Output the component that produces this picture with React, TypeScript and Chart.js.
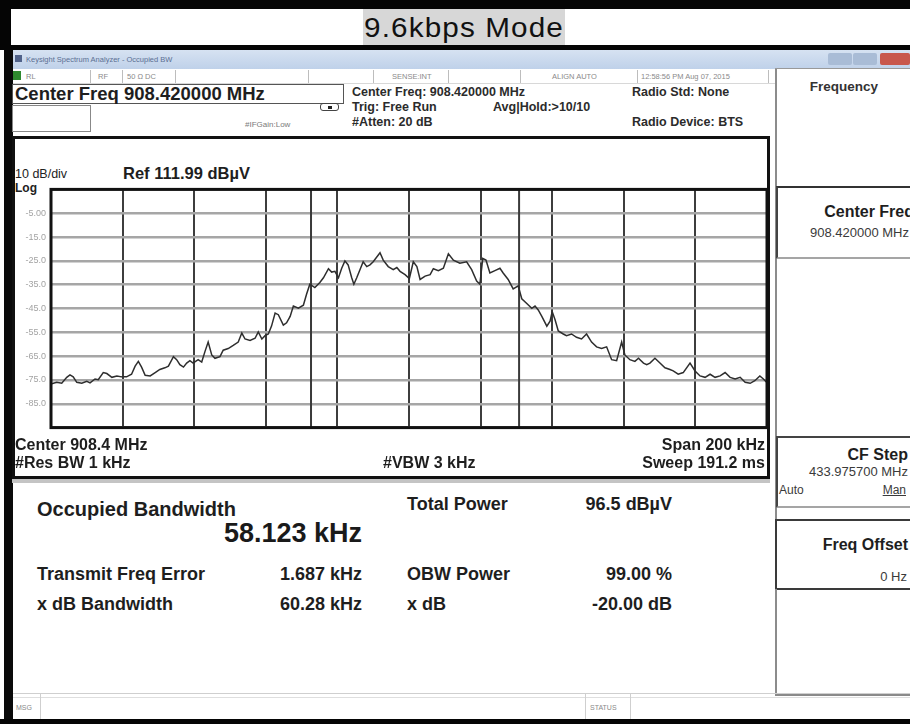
import React, { useEffect, useRef } from 'react';
import { Chart, registerables } from 'chart.js';

Chart.register(...registerables);

// ---------- data ----------
const titleText = '9.6kbps Mode';

// frequency offset from centre (kHz) and trace level (graticule units)
const freqOffsetKHz = [
  -99.8, -98.4, -97.0, -95.6, -94.7, -93.8, -92.8, -91.4, -90.0, -89.1, -87.7, -86.8, -85.4, -84.4, -83.0,
  -81.6, -80.3, -78.9, -77.5, -76.5, -75.6, -74.7, -73.7, -72.3, -70.9, -69.6, -68.2, -67.2, -65.8, -64.9,
  -64.0, -63.0, -62.1, -61.2, -60.3, -58.9, -57.9, -57.0, -56.1, -55.1, -54.2, -52.8, -51.9, -50.5, -49.1,
  -47.7, -46.7, -45.8, -44.4, -43.0, -42.1, -41.1, -40.2, -39.3, -38.4, -37.4, -36.5, -35.1, -34.2, -33.2,
  -32.3, -30.9, -29.5, -28.6, -27.7, -26.3, -24.9, -23.9, -22.5, -21.6, -20.7, -19.7, -18.8, -17.9, -17.0,
  -16.0, -15.4, -14.6, -13.7, -12.8, -11.8, -10.9, -10.0, -8.1, -7.2, -5.8, -4.4, -3.4, -2.5, -1.1,
  0.1, 1.2, 2.2, 3.1, 4.5, 5.9, 6.8, 8.2, 9.6, 11.0, 12.4, 14.2, 16.1, 17.5, 18.9,
  19.8, 20.6, 21.5, 22.6, 24.0, 25.4, 26.3, 27.7, 29.1, 30.5, 31.5, 32.9, 34.3, 35.2, 36.1,
  37.1, 38.5, 39.4, 40.0, 40.8, 41.7, 43.1, 44.0, 45.4, 46.8, 48.2, 49.6, 51.0, 52.4, 53.8,
  55.2, 56.6, 58.0, 59.4, 60.3, 61.7, 63.1, 64.1, 65.5, 66.4, 67.3, 68.7, 70.1, 71.5, 72.9,
  73.8, 75.2, 76.6, 78.5, 79.9, 81.3, 82.7, 84.1, 85.5, 86.9, 88.3, 89.7, 91.1, 92.5, 93.9,
  95.3, 96.6, 98.0, 99.0, 99.9,
];
const traceLevel = [
  -76.6, -76.0, -76.4, -73.9, -72.9, -73.7, -76.0, -76.4, -75.6, -76.2, -74.6, -74.9, -71.9, -72.3, -73.9,
  -73.3, -73.7, -73.7, -72.6, -69.2, -67.2, -69.6, -73.0, -73.3, -71.9, -70.6, -69.9, -69.2, -65.2, -66.5,
  -68.6, -69.6, -67.9, -66.9, -67.9, -66.5, -67.5, -63.1, -59.1, -64.5, -65.9, -65.2, -62.5, -61.8, -60.5,
  -59.1, -55.3, -57.8, -58.4, -57.5, -54.8, -57.8, -56.4, -55.7, -52.4, -46.9, -47.6, -52.0, -51.0, -48.3,
  -44.0, -44.9, -43.6, -38.9, -34.8, -36.2, -34.1, -32.1, -28.3, -29.7, -29.4, -32.1, -28.1, -25.0, -26.7,
  -32.1, -34.8, -32.1, -28.7, -25.4, -27.4, -26.7, -25.4, -21.6, -24.7, -27.4, -28.7, -27.8, -29.4, -30.8,
  -32.4, -25.4, -27.4, -32.8, -31.4, -30.8, -28.3, -29.1, -28.1, -22.0, -24.7, -26.0, -25.4, -28.7, -33.5,
  -34.8, -24.0, -24.7, -30.1, -29.1, -28.1, -30.1, -32.8, -36.8, -35.5, -40.9, -42.9, -44.9, -44.0, -45.6,
  -48.3, -52.4, -50.3, -46.3, -49.7, -54.4, -55.7, -56.4, -55.7, -57.1, -57.8, -55.7, -59.1, -61.1, -61.8,
  -61.1, -66.5, -66.9, -59.1, -64.5, -66.5, -67.2, -65.9, -67.9, -68.6, -67.9, -65.9, -67.9, -69.9, -70.6,
  -71.2, -72.6, -71.9, -67.9, -71.2, -73.3, -73.9, -72.6, -73.9, -73.3, -71.9, -73.9, -74.6, -73.9, -76.0,
  -76.4, -75.3, -73.3, -74.6, -76.0,
];

// occupied-bandwidth edge markers (kHz offset)
const obwEdgesKHz = [-27.37, 30.75];

// y graticule labels as printed
const yGridValues = [-5, -15, -25, -35, -45, -55, -65, -75, -85];
const yGridLabels = ['-5.00', '-15.0', '-25.0', '-35.0', '-45.0', '-55.0', '-65.0', '-75.0', '-85.0'];

const X_MIN = -100;
const X_MAX = 100;
const X_STEP = 20;
const Y_MIN = -95;
const Y_MAX = 5;
const Y_STEP = 10;

const FONT = "'Liberation Sans', Arial, Helvetica, sans-serif";

// ---------- helpers ----------
type TP = {
  x: number;
  y: number;
  s: number;
  t: string;
  b?: boolean;
  a?: 'left' | 'right' | 'center';
  c?: string;
  u?: boolean;
  ls?: number;
};

function Txt({ x, y, s, t, b, a = 'left', c = '#222', u, ls }: TP) {
  const style: React.CSSProperties = {
    position: 'absolute',
    top: y - s * 0.6,
    fontSize: s,
    lineHeight: `${s * 1.2}px`,
    fontWeight: b ? 700 : 400,
    color: c,
    whiteSpace: 'nowrap',
    textDecoration: u ? 'underline' : undefined,
    letterSpacing: ls,
  };
  if (a === 'left') style.left = x;
  else if (a === 'right') style.right = 910 - x;
  else {
    style.left = x;
    style.transform = 'translateX(-50%)';
  }
  return <div style={style}>{t}</div>;
}

function Box(props: { x: number; y: number; w: number; h: number; style?: React.CSSProperties }) {
  return (
    <div
      style={{
        position: 'absolute',
        left: props.x,
        top: props.y,
        width: props.w,
        height: props.h,
        boxSizing: 'border-box',
        ...props.style,
      }}
    />
  );
}

// ---------- chart ----------
function SpectrumChart() {
  const ref = useRef<HTMLCanvasElement | null>(null);

  useEffect(() => {
    if (!ref.current) return;
    const frame = {
      id: 'graticuleFrame',
      afterDatasetsDraw(chart: any) {
        const { ctx, chartArea } = chart;
        ctx.save();
        ctx.strokeStyle = '#111';
        ctx.lineWidth = 3;
        ctx.strokeRect(chartArea.left, chartArea.top, chartArea.right - chartArea.left, chartArea.bottom - chartArea.top);
        ctx.restore();
      },
    };

    const trace = freqOffsetKHz.map((f, i) => ({ x: f, y: traceLevel[i] }));
    const markers = obwEdgesKHz.map((f) => ({
      data: [
        { x: f, y: Y_MIN },
        { x: f, y: Y_MAX },
      ],
      borderColor: '#3a3a3a',
      borderWidth: 2,
      pointRadius: 0,
      order: 2,
    }));

    const chart = new Chart(ref.current, {
      type: 'line',
      data: {
        datasets: [
          ...markers,
          {
            data: trace,
            borderColor: '#2e2e2e',
            borderWidth: 1.5,
            pointRadius: 0,
            tension: 0,
            order: 0,
          },
        ],
      },
      options: {
        animation: false,
        responsive: false,
        devicePixelRatio: 1,
        parsing: false as any,
        layout: { padding: { left: 0, right: 3, top: 6, bottom: 6 } },
        plugins: { legend: { display: false }, tooltip: { enabled: false }, title: { display: false } },
        scales: {
          x: {
            type: 'linear',
            min: X_MIN,
            max: X_MAX,
            ticks: { stepSize: X_STEP, display: false },
            grid: { color: '#3d3d3d', lineWidth: 2, drawTicks: false },
            border: { display: false },
            afterFit(scale: any) {
              scale.height = 0;
            },
          },
          y: {
            type: 'linear',
            min: Y_MIN,
            max: Y_MAX,
            ticks: {
              stepSize: Y_STEP,
              padding: 5,
              color: '#a3a3a3',
              font: { family: FONT, size: 9 },
              callback(value: any) {
                const i = yGridValues.indexOf(Number(value));
                return i >= 0 ? yGridLabels[i] : '';
              },
            },
            grid: { color: '#a6a6a6', lineWidth: 2.5, drawTicks: false },
            border: { display: false },
            afterFit(scale: any) {
              scale.width = 37;
            },
          },
        },
      } as any,
      plugins: [frame],
    });
    return () => chart.destroy();
  }, []);

  return (
    <canvas
      ref={ref}
      width={756}
      height={259}
      style={{ position: 'absolute', left: 14, top: 179, width: 756, height: 259 }}
    />
  );
}

// ---------- page ----------
export default function App() {
  const statusDividers = [90, 122, 175, 308, 373, 448, 520, 637, 768];
  return (
    <div
      style={{
        position: 'absolute',
        left: 0,
        top: 0,
        width: 910,
        height: 724,
        overflow: 'hidden',
        background: '#fff',
        fontFamily: FONT,
      }}
    >
      {/* outer black borders */}
      <Box x={0} y={0} w={910} h={9} style={{ background: '#050505' }} />
      <Box x={0} y={0} w={11} h={50} style={{ background: '#050505' }} />
      <Box x={4} y={45} w={9} h={679} style={{ background: '#0a0a0a' }} />
      <Box x={0} y={719} w={910} h={5} style={{ background: '#050505' }} />

      {/* title */}
      <Box x={363} y={9} w={202} h={36} style={{ background: '#d7d7d7' }} />
      <div
        style={{
          position: 'absolute',
          left: 364,
          top: 9,
          width: 200,
          height: 36,
          fontSize: 27,
          lineHeight: '38px',
          textAlign: 'center',
          color: '#111',
          letterSpacing: 1,
          transform: 'scaleX(1.1)',
          whiteSpace: 'nowrap',
        }}
      >
        {titleText}
      </div>
      <Box x={0} y={45} w={910} h={5} style={{ background: '#050505' }} />

      {/* window title bar */}
      <Box x={13} y={50} w={897} h={19} style={{ background: 'linear-gradient(#d6e2f2, #bfd1e9)' }} />
      <Box x={15} y={55} w={7} h={7} style={{ background: '#50628a' }} />
      <Txt x={26} y={59} s={7.5} t="Keysight Spectrum Analyzer - Occupied BW" c="#5b6f93" />
      <Box x={828} y={53} w={24} h={12} style={{ background: '#a9bcd6', borderRadius: 2 }} />
      <Box x={853} y={53} w={24} h={12} style={{ background: '#a9bcd6', borderRadius: 2 }} />
      <Box x={880} y={53} w={30} h={12} style={{ background: '#c8574c', borderRadius: 2 }} />

      {/* status row */}
      <Box x={13} y={69} w={763} h={15} style={{ background: '#fff', borderBottom: '1px solid #d8d8d8' }} />
      {statusDividers.map((d) => (
        <Box key={d} x={d} y={70} w={1} h={13} style={{ background: '#bdbdbd' }} />
      ))}
      <Box x={13} y={71} w={8} h={9} style={{ background: '#2f8a2f' }} />
      <Txt x={26} y={76} s={7.5} t="RL" c="#8a8a8a" />
      <Txt x={98} y={76} s={7.5} t="RF" c="#8a8a8a" />
      <Txt x={127} y={76} s={7.5} t="50 Ω   DC" c="#8a8a8a" />
      <Txt x={392} y={76} s={7.5} t="SENSE:INT" c="#8a8a8a" />
      <Txt x={552} y={76} s={7.5} t="ALIGN AUTO" c="#8a8a8a" />
      <Txt x={641} y={76} s={7.5} t="12:58:56 PM Aug 07, 2015" c="#8a8a8a" />

      {/* meas bar */}
      <Box x={12} y={84} w={332} h={20} style={{ border: '1px solid #555' }} />
      <Txt x={15} y={94} s={18.5} b t="Center Freq 908.420000 MHz" c="#1e1e1e" />
      <Box x={12} y={105} w={79} h={27} style={{ border: '1px solid #888' }} />
      <Txt x={245} y={125} s={8} t="#IFGain:Low" c="#7a7a7a" />
      <Box x={320} y={103} w={19} h={8} style={{ border: '1px solid #444', borderRadius: 3 }} />
      <Box x={328} y={106} w={4} h={3} style={{ background: '#222' }} />

      <Txt x={352} y={92} s={12.5} b t="Center Freq: 908.420000 MHz" c="#2b2b2b" />
      <Txt x={352} y={107} s={12.5} b t="Trig: Free Run" c="#2b2b2b" />
      <Txt x={493} y={107} s={12.5} b t="Avg|Hold:>10/10" c="#2b2b2b" />
      <Txt x={352} y={122} s={12.5} b t="#Atten: 20 dB" c="#2b2b2b" />
      <Txt x={632} y={92} s={12.5} b t="Radio Std: None" c="#2b2b2b" />
      <Txt x={632} y={122} s={12.5} b t="Radio Device: BTS" c="#2b2b2b" />

      {/* graticule frame */}
      <Box x={12} y={136} w={758} h={343} style={{ border: '3px solid #111' }} />
      <Box x={12} y={479} w={758} h={4} style={{ background: '#c4c4c4' }} />
      <Txt x={15} y={174} s={12.5} t="10 dB/div" c="#222" />
      <Txt x={15} y={188} s={12} b t="Log" c="#222" />
      <Txt x={123} y={174} s={16.5} b t="Ref 111.99 dBµV" c="#1e1e1e" />
      <SpectrumChart />
      <Txt x={15} y={445} s={16} b t="Center  908.4 MHz" c="#1e1e1e" />
      <Txt x={15} y={463} s={16} b t="#Res BW  1 kHz" c="#1e1e1e" />
      <Txt x={383} y={463} s={16} b t="#VBW  3 kHz" c="#1e1e1e" />
      <Txt x={765} y={445} s={16} b a="right" t="Span 200 kHz" c="#1e1e1e" />
      <Txt x={765} y={463} s={16} b a="right" t="Sweep  191.2 ms" c="#1e1e1e" />

      {/* metrics */}
      <Txt x={37} y={509} s={20} b t="Occupied Bandwidth" c="#1e1e1e" />
      <Txt x={362} y={533} s={27} b a="right" t="58.123 kHz" c="#1a1a1a" />
      <Txt x={37} y={575} s={18} b t="Transmit Freq Error" c="#1e1e1e" />
      <Txt x={362} y={575} s={18} b a="right" t="1.687 kHz" c="#1e1e1e" />
      <Txt x={37} y={605} s={18} b t="x dB Bandwidth" c="#1e1e1e" />
      <Txt x={362} y={605} s={18} b a="right" t="60.28 kHz" c="#1e1e1e" />
      <Txt x={407} y={505} s={18} b t="Total Power" c="#1e1e1e" />
      <Txt x={672} y={505} s={18} b a="right" t="96.5 dBµV" c="#1e1e1e" />
      <Txt x={407} y={575} s={18} b t="OBW Power" c="#1e1e1e" />
      <Txt x={672} y={575} s={18} b a="right" t="99.00 %" c="#1e1e1e" />
      <Txt x={407} y={605} s={18} b t="x dB" c="#1e1e1e" />
      <Txt x={672} y={605} s={18} b a="right" t="-20.00 dB" c="#1e1e1e" />

      {/* softkey panel */}
      <Box x={775} y={68} w={2} h={627} style={{ background: '#8c8c8c' }} />
      <Box x={775} y={68} w={135} h={1} style={{ background: '#999' }} />
      <Txt x={844} y={87} s={13.5} b a="center" t="Frequency" c="#333" />
      <Box x={776} y={186} w={140} h={73} style={{ borderTop: '2px solid #333', borderBottom: '2px solid #a5a5a5', borderLeft: '2px solid #444' }} />
      <Txt x={914} y={212} s={16} b a="right" t="Center Freq" c="#1e1e1e" />
      <Txt x={909} y={233} s={13} a="right" t="908.420000 MHz" c="#3a3a3a" />
      <Box x={776} y={436} w={140} h={72} style={{ borderTop: '2px solid #444', borderBottom: '2px solid #a5a5a5', borderLeft: '2px solid #444' }} />
      <Txt x={908} y={455} s={16} b a="right" t="CF Step" c="#1e1e1e" />
      <Txt x={908} y={472} s={13} a="right" t="433.975700 MHz" c="#3a3a3a" />
      <Txt x={779} y={490} s={12} t="Auto" c="#3a3a3a" />
      <Txt x={906} y={490} s={12} a="right" u t="Man" c="#3a3a3a" />
      <Box x={775} y={519} w={140} h={71} style={{ border: '2px solid #3a3a3a' }} />
      <Txt x={908} y={545} s={16} b a="right" t="Freq Offset" c="#1e1e1e" />
      <Txt x={907} y={577} s={13} a="right" t="0 Hz" c="#3a3a3a" />
      <Box x={775} y={589} w={140} h={107} style={{ borderBottom: '2px solid #8a8a8a', borderLeft: '2px solid #8c8c8c' }} />

      {/* status bar */}
      <Box x={13} y={693} w={897} h={1} style={{ background: '#cfcfcf' }} />
      <Box x={13} y={697} w={897} h={1} style={{ background: '#dedede' }} />
      <Box x={40} y={694} w={1} h={25} style={{ background: '#cfcfcf' }} />
      <Txt x={16} y={708} s={7} t="MSG" c="#8a8a8a" />
      <Box x={585} y={694} w={1} h={25} style={{ background: '#cfcfcf' }} />
      <Box x={630} y={694} w={1} h={25} style={{ background: '#cfcfcf' }} />
      <Txt x={590} y={708} s={7} t="STATUS" c="#8a8a8a" />
    </div>
  );
}
